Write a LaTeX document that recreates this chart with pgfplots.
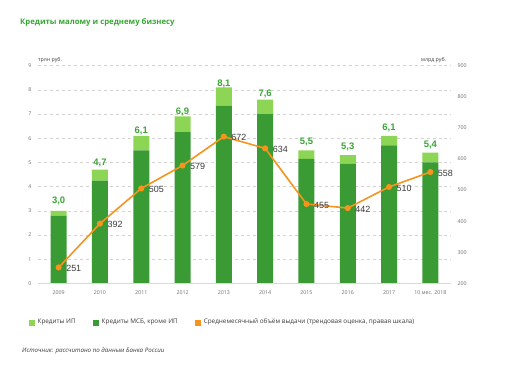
\documentclass[border=0pt]{standalone}
\usepackage{pgfplots}
\pgfplotsset{compat=1.18}
\usepackage{fontspec}
\setmainfont{Open Sans}
\newfontfamily\lib{Liberation Sans}
\definecolor{dgreen}{HTML}{3A9B35}
\definecolor{lgreen}{HTML}{8DD655}
\definecolor{orangec}{HTML}{F7941D}
\definecolor{titlegreen}{HTML}{36A832}
\definecolor{labgreen}{HTML}{3AA635}
\definecolor{tickgray}{HTML}{6E6E6E}
\definecolor{txt}{HTML}{3C3C3C}
\begin{document}
\begin{tikzpicture}[x=1bp,y=1bp]
\fill[white] (0,0) rectangle (519,380);
\node[anchor=west, inner sep=0, font=\bfseries\fontsize{7.8}{10}\selectfont, text=titlegreen] at (20,358) {Кредиты малому и среднему бизнесу};
\node[anchor=west, inner sep=0, font=\fontsize{5.3}{6}\selectfont, text=txt] at (38,319.5) {трлн руб.};
\node[anchor=west, inner sep=0, font=\fontsize{5.3}{6}\selectfont, text=txt] at (421,319.5) {млрд руб.};
\node[anchor=west, inner sep=0, font=\itshape\fontsize{6.2}{7}\selectfont, text=txt] at (22,29) {Источник: рассчитано по данным Банка России};
\begin{axis}[
  at={(38bp,96.7bp)}, anchor=south west, scale only axis,
  width=413bp, height=217.6bp,
  xmin=-0.5, xmax=9.5, ymin=0, ymax=9,
  ybar stacked, bar width=16bp,
  axis line style={draw=none},
  ymajorgrids, grid style={dashed, gray!35, line width=0.5bp},
  ytick={0,...,9}, xtick={0,...,9},
  xticklabels={2009,2010,2011,2012,2013,2014,2015,2016,2017,10 мес. 2018},
  major tick length=0pt, tick style={draw=none},
  /pgf/number format/assume math mode=true,
  yticklabel style={font=\fontsize{5.3}{6}\selectfont, text=tickgray, xshift=-3bp},
  xticklabel style={font=\fontsize{5.3}{6}\selectfont, text=tickgray, yshift=-4bp},
  clip=false,
]
\draw[gray!30, line width=0.6bp] (axis cs:-0.5,0) -- (axis cs:9.5,0);
\addplot[fill=dgreen, draw=none] coordinates {(0,2.8) (1,4.25) (2,5.5) (3,6.25) (4,7.35) (5,7.0) (6,5.15) (7,4.95) (8,5.7) (9,5.0)};
\addplot[fill=lgreen, draw=none, nodes near coords, point meta=explicit symbolic,
  every node near coord/.append style={font=\lib\bfseries\fontsize{9.5}{11}\selectfont, text=labgreen, anchor=south, yshift=5bp}]
  table[meta=lab] {
x y lab
0 0.2 3,0
1 0.45 4,7
2 0.6 6,1
3 0.65 6,9
4 0.75 8,1
5 0.6 7,6
6 0.35 5,5
7 0.35 5,3
8 0.4 6,1
9 0.4 5,4
};
\end{axis}
\begin{axis}[
  at={(38bp,96.7bp)}, anchor=south west, scale only axis,
  width=413bp, height=217.6bp,
  xmin=-0.5, xmax=9.5, ymin=200, ymax=900,
  axis y line*=right, axis x line=none,
  y axis line style={draw=none},
  ytick={200,300,...,900},
  major tick length=0pt, tick style={draw=none},
  /pgf/number format/assume math mode=true,
  yticklabel style={font=\fontsize{5.3}{6}\selectfont, text=tickgray, xshift=3bp},
  clip=false,
  legend image code/.code={\fill[#1, draw=none] (0bp,-4bp) rectangle (6bp,2bp);},
  legend style={at={(-0.022,-0.178)}, anchor=west, draw=none, fill=none, inner sep=0pt,
    font=\fontsize{6.4}{7}\selectfont, text=txt, legend columns=3,
    /tikz/every even column/.append style={column sep=15bp},
    nodes={inner sep=2.5bp}},
]
\addlegendimage{fill=lgreen, draw=none}
\addlegendentry{Кредиты ИП}
\addlegendimage{fill=dgreen, draw=none}
\addlegendentry{Кредиты МСБ, кроме ИП}
\addlegendimage{fill=orangec, draw=none}
\addlegendentry{Среднемесячный объём выдачи (трендовая оценка, правая шкала)}
\addplot[orangec, line width=1.6bp, mark=*, mark size=2.2bp, mark options={fill=orangec, draw=orangec}, forget plot,
  nodes near coords, point meta=y,
  every node near coord/.append style={font=\lib\fontsize{9}{11}\selectfont, text=txt, anchor=west, xshift=3.5bp, yshift=-1bp}]
  coordinates {(0,251) (1,392) (2,505) (3,579) (4,672) (5,634) (6,455) (7,442) (8,510) (9,558)};
\end{axis}
\end{tikzpicture}
\end{document}
